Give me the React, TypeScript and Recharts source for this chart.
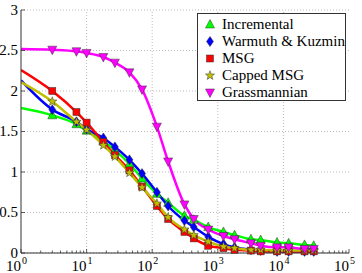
import React from "react";
import {
  LineChart,
  Line,
  XAxis,
  YAxis,
  CartesianGrid,
  ReferenceLine,
  Legend,
} from "recharts";

const X_VALUES = [
  1, 3, 7, 10, 18, 27, 45, 70, 118, 175, 310, 430, 715, 1220, 1800, 3200,
  4500, 8000, 12000, 21000, 29000,
];

const INCREMENTAL = [
  1.79, 1.7, 1.59, 1.51, 1.38, 1.27, 1.1, 0.92, 0.73, 0.62, 0.46, 0.41, 0.32,
  0.26, 0.22, 0.17, 0.16, 0.13, 0.12, 0.1, 0.09,
];
const WARMUTH = [
  2.13, 1.77, 1.62, 1.53, 1.42, 1.31, 1.15, 0.98, 0.75, 0.58, 0.4, 0.32, 0.2,
  0.11, 0.07, 0.04, 0.03, 0.02, 0.02, 0.02, 0.02,
];
const MSG = [
  2.26, 2.0, 1.74, 1.61, 1.37, 1.21, 1.02, 0.82, 0.58, 0.42, 0.26, 0.18, 0.09,
  0.06, 0.04, 0.03, 0.02, 0.02, 0.02, 0.02, 0.02,
];
const CAPPED_MSG = [
  2.11, 1.87, 1.62, 1.52, 1.33, 1.19, 0.99, 0.81, 0.61, 0.44, 0.29, 0.22, 0.14,
  0.08, 0.06, 0.04, 0.04, 0.03, 0.03, 0.03, 0.03,
];
const GRASSMANNIAN = [
  2.52, 2.51, 2.49, 2.47, 2.42, 2.35, 2.23, 2.02, 1.56, 1.13, 0.6, 0.42, 0.29,
  0.21, 0.17, 0.12, 0.09, 0.07, 0.07, 0.05, 0.05,
];

const X_MAJOR = [1, 10, 100, 1000, 10000, 100000];
const Y_TICKS = [0, 0.5, 1, 1.5, 2, 2.5, 3];

type Shape = "up" | "diamond" | "square" | "star" | "down";

const SERIES: { key: string; name: string; color: string; shape: Shape; values: number[] }[] = [
  { key: "inc", name: "Incremental", color: "#00ff00", shape: "up", values: INCREMENTAL },
  { key: "wk", name: "Warmuth & Kuzmin", color: "#0000ff", shape: "diamond", values: WARMUTH },
  { key: "msg", name: "MSG", color: "#ff0000", shape: "square", values: MSG },
  { key: "cap", name: "Capped MSG", color: "#bfbf00", shape: "star", values: CAPPED_MSG },
  { key: "grass", name: "Grassmannian", color: "#ff00ff", shape: "down", values: GRASSMANNIAN },
];

const data = X_VALUES.map((x, i) => {
  const row: Record<string, number> = { x };
  SERIES.forEach((s) => (row[s.key] = s.values[i]));
  return row;
});

// log ticks incl. minor ones; labels only on decades
const X_TICKS: number[] = [];
for (let d = 0; d < 5; d++) {
  for (let m = 1; m < 10; m++) X_TICKS.push(m * Math.pow(10, d));
}
X_TICKS.push(100000);

const FONT = '"Liberation Serif", Tinos, "Times New Roman", Times, "DejaVu Serif", serif';
const AXIS = "#333";

function Marker({ shape, cx, cy, color }: { shape: Shape; cx: number; cy: number; color: string }) {
  const common = { fill: color, stroke: "#333", strokeWidth: 0.5 };
  if (shape === "up")
    return <polygon points={`${cx},${cy - 5} ${cx - 4.5},${cy + 3.5} ${cx + 4.5},${cy + 3.5}`} {...common} />;
  if (shape === "down")
    return <polygon points={`${cx},${cy + 5} ${cx - 4.5},${cy - 3.5} ${cx + 4.5},${cy - 3.5}`} {...common} />;
  if (shape === "diamond")
    return <polygon points={`${cx},${cy - 5} ${cx + 3.5},${cy} ${cx},${cy + 5} ${cx - 3.5},${cy}`} {...common} />;
  if (shape === "square") return <rect x={cx - 3.5} y={cy - 3.5} width={7} height={7} {...common} />;
  const pts: string[] = [];
  for (let k = 0; k < 10; k++) {
    const r = k % 2 === 0 ? 4.8 : 2;
    const a = -Math.PI / 2 + (k * Math.PI) / 5;
    pts.push(`${cx + r * Math.cos(a)},${cy + r * Math.sin(a)}`);
  }
  return <polygon points={pts.join(" ")} {...common} />;
}

function BottomTick(props: any) {
  const { x, y, payload } = props;
  const v = payload.value;
  const exp = Math.round(Math.log10(v));
  const major = Math.abs(Math.pow(10, exp) - v) < 1e-9;
  return (
    <g>
      <line x1={x} y1={y} x2={x} y2={y - (major ? 4 : 2.5)} stroke={AXIS} strokeWidth={0.8} />
      {major && (
        <text style={{ fontFamily: FONT }} fill="#000">
          <tspan x={x} y={y + 17.5} textAnchor="end" fontSize={15}>10</tspan>
          <tspan x={x + 1} y={y + 10.5} textAnchor="start" fontSize={10}>{exp}</tspan>
        </text>
      )}
    </g>
  );
}

function TopTick(props: any) {
  const { x, y, payload } = props;
  const v = payload.value;
  const exp = Math.round(Math.log10(v));
  const major = Math.abs(Math.pow(10, exp) - v) < 1e-9;
  return <line x1={x} y1={y} x2={x} y2={y + (major ? 4 : 2.5)} stroke={AXIS} strokeWidth={0.8} />;
}

function LeftTick(props: any) {
  const { x, y, payload } = props;
  return (
    <g>
      <line x1={x} y1={y} x2={x + 4} y2={y} stroke={AXIS} strokeWidth={0.8} />
      <text x={x - 3} y={y + 4.5} textAnchor="end" style={{ fontFamily: FONT }} fontSize={15} fill="#000">
        {String(payload.value)}
      </text>
    </g>
  );
}

function RightTick(props: any) {
  const { x, y } = props;
  return <line x1={x} y1={y} x2={x - 4} y2={y} stroke={AXIS} strokeWidth={0.8} />;
}

function LegendBox() {
  return (
    <div
      style={{
        border: `1px solid ${AXIS}`,
        background: "#fff",
        boxSizing: "border-box",
        width: 149,
        height: 88,
        paddingTop: 2,
        fontFamily: FONT,
        fontSize: 15,
      }}
    >
      {SERIES.map((s) => (
        <div key={s.key} style={{ display: "flex", alignItems: "center", height: 17 }}>
          <svg width={24} height={17} style={{ flex: "none" }}>
            <Marker shape={s.shape} cx={12} cy={8.5} color={s.color} />
          </svg>
          <span style={{ whiteSpace: "nowrap", lineHeight: "17px" }}>{s.name}</span>
        </div>
      ))}
    </div>
  );
}

export default function App() {
  return (
    <div style={{ position: "absolute", left: 0, top: 0, background: "#fff", fontFamily: FONT }}>
      <LineChart width={362} height={273} data={data} margin={{ top: 10, right: 13, bottom: 0, left: 0 }}>
        <CartesianGrid vertical={false} stroke="#bbb" strokeDasharray="1 2" />
        {X_MAJOR.slice(1, -1).map((v) => (
          <ReferenceLine key={v} x={v} stroke="#bbb" strokeDasharray="1 2" />
        ))}
        <XAxis
          dataKey="x"
          type="number"
          scale="log"
          domain={[1, 100000]}
          ticks={X_TICKS}
          interval={0}
          allowDataOverflow
          height={20}
          tickSize={0}
          tickMargin={0}
          tickLine={false}
          axisLine={{ stroke: AXIS }}
          tick={<BottomTick />}
        />
        <XAxis
          xAxisId="top"
          orientation="top"
          dataKey="x"
          type="number"
          scale="log"
          domain={[1, 100000]}
          ticks={X_TICKS}
          interval={0}
          allowDataOverflow
          height={0}
          tickSize={0}
          tickMargin={0}
          tickLine={false}
          axisLine={{ stroke: AXIS }}
          tick={<TopTick />}
        />
        <YAxis
          type="number"
          domain={[0, 3]}
          ticks={Y_TICKS}
          interval={0}
          width={21}
          tickSize={0}
          tickMargin={0}
          tickLine={false}
          axisLine={{ stroke: AXIS }}
          tick={<LeftTick />}
        />
        <YAxis
          yAxisId="right"
          orientation="right"
          type="number"
          domain={[0, 3]}
          ticks={Y_TICKS}
          interval={0}
          width={0}
          tickSize={0}
          tickMargin={0}
          tickLine={false}
          axisLine={{ stroke: AXIS }}
          tick={<RightTick />}
        />
        {SERIES.map((s) => (
          <Line
            key={s.key}
            dataKey={s.key}
            name={s.name}
            type="monotone"
            stroke={s.color}
            strokeWidth={2.5}
            isAnimationActive={false}
            dot={(p: any) =>
              p.payload.x === 1 ? (
                <g key={`${s.key}-${p.index}`} />
              ) : (
                <Marker key={`${s.key}-${p.index}`} shape={s.shape} cx={p.cx} cy={p.cy} color={s.color} />
              )
            }
            activeDot={false}
          />
        ))}
        <Legend
          layout="vertical"
          align="center"
          verticalAlign="middle"
          wrapperStyle={{ left: 197, top: 13, width: 149, height: 88 }}
          content={() => <LegendBox />}
        />
      </LineChart>
    </div>
  );
}
